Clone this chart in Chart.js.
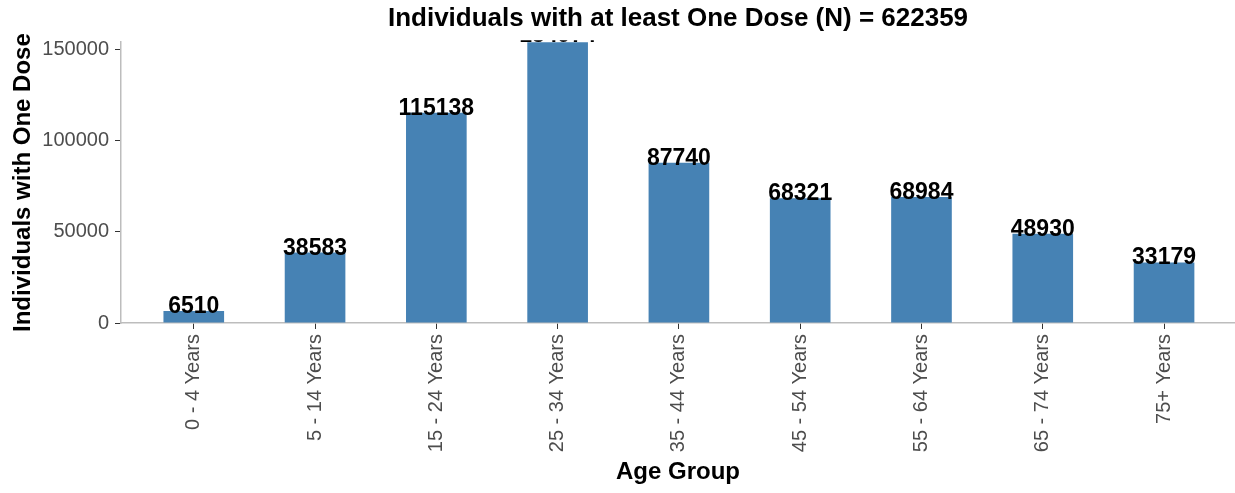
<!DOCTYPE html>
<html>
<head>
<meta charset="utf-8">
<script src="https://cdn.jsdelivr.net/npm/chart.js@4/dist/chart.umd.min.js"></script>
<style>
  html, body { margin: 0; padding: 0; background: #fff; }
  #wrap { width: 1235px; height: 493px; }
</style>
</head>
<body>
<div id="wrap"><canvas id="myChart"></canvas></div>
<script>
// Age groups and counts of individuals with at least one dose
const categories = ['0 - 4 Years', '5 - 14 Years', '15 - 24 Years', '25 - 34 Years', '35 - 44 Years',
    '45 - 54 Years', '55 - 64 Years', '65 - 74 Years', '75+ Years'];
const doses = [6510, 38583, 115138, 154974, 87740, 68321, 68984, 48930, 33179];
const yTicks = [0, 50000, 100000, 150000];
const totalN = 622359;

const FONT = "'Liberation Sans', Arial, sans-serif";

// value labels above each bar, clipped just above the plot like the original
const barLabels = {
    id: 'barLabels',
    afterDatasetsDraw(chart) {
        const { ctx, chartArea } = chart;
        const meta = chart.getDatasetMeta(0);
        ctx.save();
        ctx.beginPath();
        ctx.rect(chartArea.left, chartArea.top - 2, chartArea.right - chartArea.left, chartArea.bottom - chartArea.top + 2);
        ctx.clip();
        ctx.font = 'bold 23px ' + FONT;
        ctx.fillStyle = '#000';
        ctx.textAlign = 'center';
        ctx.textBaseline = 'alphabetic';
        meta.data.forEach((bar, i) => {
            ctx.fillText(String(doses[i]), bar.x, bar.y + 2);
        });
        ctx.restore();
    }
};

const ctx = document.getElementById('myChart');
new Chart(ctx, {
    type: 'bar',
    data: {
        datasets: [{
            label: 'Individuals with One Dose',
            data: doses.map((v, i) => ({ x: i, y: v })),
            backgroundColor: '#4682B4',
            borderWidth: 0,
            barPercentage: 0.5,
            categoryPercentage: 1
        }]
    },
    options: {
        responsive: true,
        maintainAspectRatio: false,
        animation: false,
        layout: { padding: 0 },
        plugins: {
            legend: { display: false },
            tooltip: { enabled: false },
            title: {
                display: true,
                fullSize: false,
                text: 'Individuals with at least One Dose (N) = ' + totalN,
                color: '#000',
                font: { family: FONT, size: 26, weight: 'bold', lineHeight: 1.2 },
                padding: { top: 3, bottom: 8 }
            }
        },
        scales: {
            x: {
                type: 'linear',
                offset: false,
                min: -0.6,
                max: 8.585,
                afterBuildTicks: (axis) => { axis.ticks = categories.map((_, i) => ({ value: i })); },
                afterFit: (scale) => { scale.height = 170; },
                ticks: {
                    autoSkip: false,
                    minRotation: 90,
                    maxRotation: 90,
                    padding: 5,
                    color: '#4d4d4d',
                    font: { family: FONT, size: 20 },
                    callback: (value) => categories[value]
                },
                grid: { offset: false, drawOnChartArea: false, drawTicks: true, tickLength: 6, color: '#333', lineWidth: 1 },
                border: { color: '#bdbdbd', width: 1.5 },
                title: {
                    display: true,
                    text: 'Age Group',
                    color: '#000',
                    font: { family: FONT, size: 24, weight: 'bold', lineHeight: 1.2 },
                    padding: { top: 0, bottom: 6 }
                }
            },
            y: {
                min: 0,
                max: 153832,
                afterBuildTicks: (axis) => { axis.ticks = yTicks.map(v => ({ value: v })); },
                afterFit: (scale) => { scale.width = 121; },
                ticks: {
                    padding: 6,
                    color: '#4d4d4d',
                    font: { family: FONT, size: 20 },
                    callback: (value) => String(value)
                },
                grid: { drawOnChartArea: false, drawTicks: true, tickLength: 6, color: '#333', lineWidth: 1 },
                border: { color: '#bdbdbd', width: 1.5 },
                title: {
                    display: true,
                    text: 'Individuals with One Dose',
                    color: '#000',
                    font: { family: FONT, size: 24, weight: 'bold', lineHeight: 1.2 },
                    padding: { top: 9, bottom: 0 }
                }
            }
        }
    },
    plugins: [barLabels]
});
</script>
</body>
</html>
